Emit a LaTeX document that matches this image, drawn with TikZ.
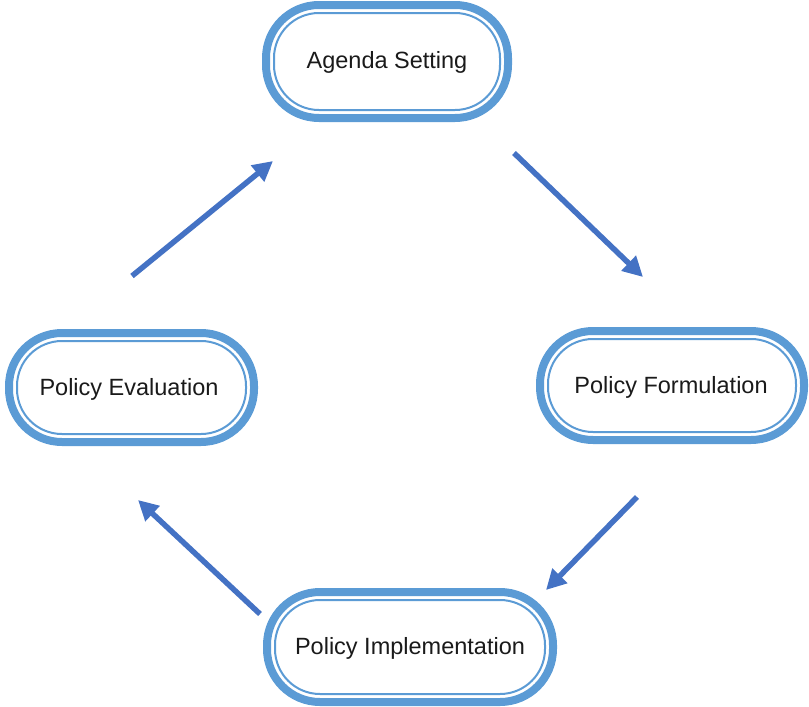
\documentclass[tikz,border=0pt]{standalone}
\usepackage{fontspec}
\setmainfont{Liberation Sans}
\usetikzlibrary{arrows.meta}
\definecolor{boxblue}{HTML}{5B9BD5}
\definecolor{arrowblue}{HTML}{4472C4}
\definecolor{txt}{HTML}{1A1A1A}
\tikzset{
  stage/.style={rectangle, draw=boxblue, line width=8pt, rounded corners=53pt,
    outer sep=0pt, inner sep=0pt, fill=white, text=txt,
    font=\fontsize{23.5}{27}\selectfont},
  innerline/.style={draw=boxblue, line width=2pt, rounded corners=45pt},
  label/.style={text=txt, font=\fontsize{23.5}{27}\selectfont},
  flow/.style={draw=arrowblue, line width=5.5pt, -{Triangle[length=20pt,width=20pt]}}
}
\begin{document}
\begin{tikzpicture}[x=1pt,y=-1pt]
\useasboundingbox (0,0) rectangle (809,707);
% nodes (outer sizes minus border)
\node[stage, minimum width=242pt, minimum height=113pt] (A) at (387,61.5) {};
\node[stage, minimum width=264pt, minimum height=109pt] (F) at (672,385.5) {};
\node[stage, minimum width=286pt, minimum height=110pt] (I) at (410,647) {};
\node[stage, minimum width=245pt, minimum height=109pt] (E) at (131.5,387.5) {};
% inner thin borders
\foreach \n in {A,F,I,E}{
  \draw[innerline] ([shift={(8pt,-8pt)}]\n.north west) rectangle ([shift={(-8pt,8pt)}]\n.south east);
}
% labels
\node[label] (At) at (387,62.5) {Agenda Setting};
\node[label] (Ft) at (671,387) {Policy Formulation};
\node[label] (It) at (410,648.5) {Policy Implementation};
\node[label] (Et) at (129,389) {Policy Evaluation};
% arrow end points
\coordinate (a1s) at (132,276); \coordinate (a1e) at (273,161);
\coordinate (a2s) at (514,153); \coordinate (a2e) at (643,277);
\coordinate (a3s) at (637,497); \coordinate (a3e) at (546,590);
\coordinate (a4s) at (260,614); \coordinate (a4e) at (138,500);
\draw[flow] (a1s) -- (a1e);
\draw[flow] (a2s) -- (a2e);
\draw[flow] (a3s) -- (a3e);
\draw[flow] (a4s) -- (a4e);
\end{tikzpicture}
\end{document}
